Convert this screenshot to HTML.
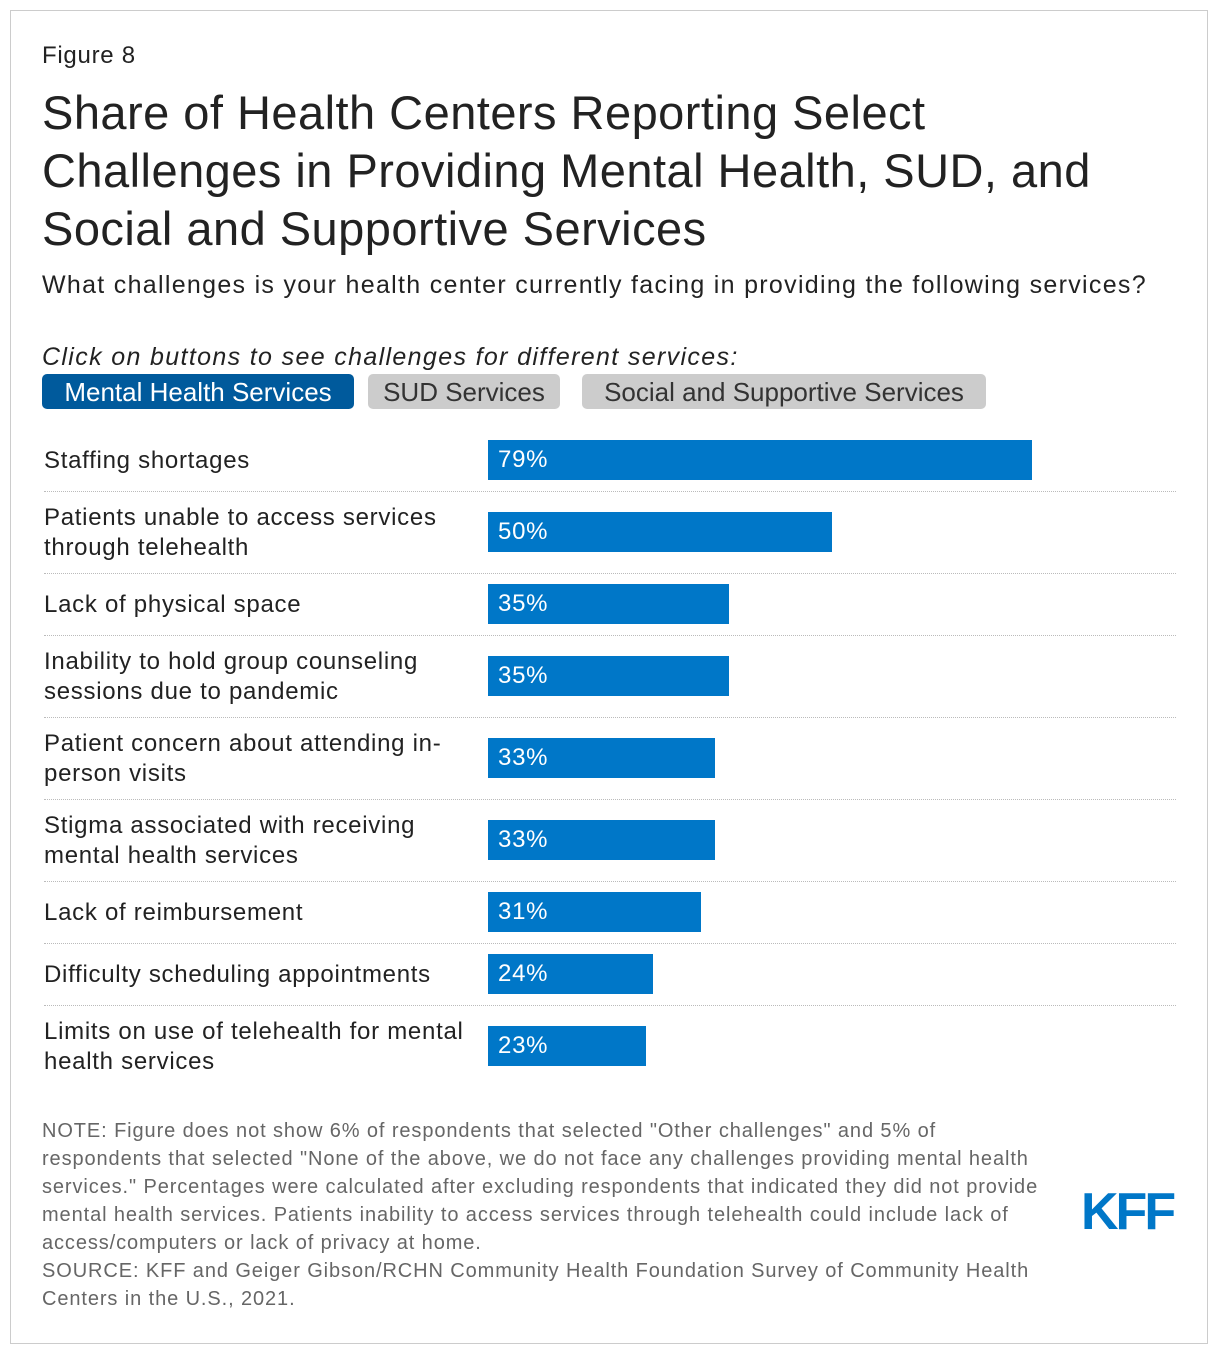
<!DOCTYPE html>
<html><head><meta charset="utf-8"><style>
body{margin:0;width:1220px;height:1356px;background:#fff;font-family:"Liberation Sans",Arial,sans-serif;color:#222;position:relative;overflow:hidden;letter-spacing:0.045em}
.frame{position:absolute;left:10px;top:10px;width:1198px;height:1334px;border:1px solid #ccc;box-sizing:border-box}
.abs{position:absolute}
.btn{position:absolute;top:374px;height:35px;border-radius:5px;font-size:26px;line-height:36px;text-align:center;box-sizing:border-box;letter-spacing:0}
.lbl{position:absolute;left:44px;font-size:24px;line-height:30px;color:#222;width:436px}
.bar{position:absolute;left:488px;height:40px;background:#0077c8;color:#fff;font-size:24px;line-height:40px;padding-left:10px;box-sizing:border-box;white-space:nowrap}
.sep{position:absolute;left:44px;width:1132px;border-top:1px dotted #bbb;height:0}
.note{position:absolute;left:42px;top:1117px;font-size:20px;line-height:28px;color:#666;white-space:nowrap;letter-spacing:0.045em}
</style></head><body>
<div class="frame"></div>
<div class="abs" style="left:42px;top:42px;font-size:24px">Figure 8</div>
<div class="abs" style="left:42px;top:84px;font-size:47px;line-height:58px;color:#222;letter-spacing:0.01em;white-space:nowrap">Share of Health Centers Reporting Select<br>Challenges in Providing Mental Health, SUD, and<br>Social and Supportive Services</div>
<div class="abs" style="left:42px;top:268px;font-size:25px;line-height:34px;white-space:nowrap;letter-spacing:0.052em">What challenges is your health center currently facing in providing the following services?</div>
<div class="abs" style="left:42px;top:340px;font-size:25px;line-height:34px;font-style:italic;white-space:nowrap;letter-spacing:0.054em">Click on buttons to see challenges for different services:</div>
<div class="btn" style="left:42px;width:312px;background:#005a9c;color:#fff">Mental Health Services</div>
<div class="btn" style="left:368px;width:192px;background:#cccccc;color:#333">SUD Services</div>
<div class="btn" style="left:582px;width:404px;background:#cccccc;color:#333">Social and Supportive Services</div>
<div id="chart"></div>
<div class="note">NOTE: Figure does not show 6% of respondents that selected "Other challenges" and 5% of<br>respondents that selected "None of the above, we do not face any challenges providing mental health<br>services." Percentages were calculated after excluding respondents that indicated they did not provide<br>mental health services. Patients inability to access services through telehealth could include lack of<br>access/computers or lack of privacy at home.<br>SOURCE: KFF and Geiger Gibson/RCHN Community Health Foundation Survey of Community Health<br>Centers in the U.S., 2021.</div>
<div class="abs" style="left:1081px;top:1183px;font-size:52px;font-weight:bold;color:#0077c8;letter-spacing:-3px;line-height:58px">KFF</div>
<script>
const categories=["Staffing shortages","Patients unable to access services through telehealth","Lack of physical space","Inability to hold group counseling sessions due to pandemic","Patient concern about attending in-person visits","Stigma associated with receiving mental health services","Lack of reimbursement","Difficulty scheduling appointments","Limits on use of telehealth for mental health services"];
const values=[79,50,35,35,33,33,31,24,23];
const lineCounts=[1,2,1,2,2,2,1,1,2];
const chart=document.getElementById('chart');
const scale=v=>v*6.886;
let y=430;
categories.forEach((c,i)=>{
  const h=lineCounts[i]===1?62:82;
  const mid=y+h/2;
  const l=document.createElement('div');
  l.className='lbl';
  l.style.top=(mid-lineCounts[i]*15)+'px';
  l.textContent=c;
  
  
  chart.appendChild(l);
  const b=document.createElement('div');
  b.className='bar';
  b.style.top=(mid-21)+'px';
  b.style.width=scale(values[i])+'px';
  b.textContent=values[i]+'%';
  
  
  chart.appendChild(b);
  y+=h;
  if(i<categories.length-1){
    const s=document.createElement('div');
    s.className='sep';
    s.style.top=(y-1)+'px';
    
    
    chart.appendChild(s);
  }
});
</script>
</body></html>
